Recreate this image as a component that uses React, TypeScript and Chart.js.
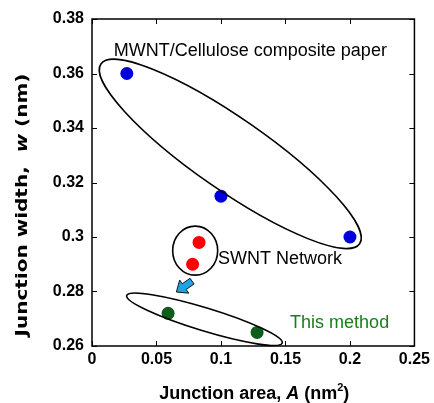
import React, { useEffect, useRef } from "react";
import { Chart, registerables } from "chart.js";
Chart.register(...registerables);

// Data (x: junction area nm^2, y: junction width nm)
const mwntX = [0.027, 0.1, 0.2];
const mwntY = [0.36, 0.315, 0.3];
const swntX = [0.083, 0.078];
const swntY = [0.298, 0.29];
const thisX = [0.059, 0.128];
const thisY = [0.272, 0.265];

const xTicks = [0, 0.05, 0.1, 0.15, 0.2, 0.25];
const xTickLabels = ["0", "0.05", "0.1", "0.15", "0.2", "0.25"];
const yTicks = [0.26, 0.28, 0.3, 0.32, 0.34, 0.36, 0.38];
const yTickLabels = ["0.26", "0.28", "0.3", "0.32", "0.34", "0.36", "0.38"];

// Group outlines in data units: center, major-axis tip, minor semi-axis (px)
const ellCenterX = [0.1072, 0.08, 0.0872];
const ellCenterY = [0.3305, 0.295, 0.2698];
const ellTipX = [0.2075, 0.08, 0.1475];
const ellTipY = [0.2975, 0.304, 0.2611];
const ellMinor = [36, 22.5, 11.5];

// Arrow (tail -> tip) in data units
const arrowX = [0.0776, 0.0654];
const arrowY = [0.2838, 0.2798];

const labelTexts = ["MWNT/Cellulose composite paper", "SWNT Network", "This method"];
const labelX = [0.0169, 0.0977, 0.1536];
const labelY = [0.3665, 0.2902, 0.2665];

const BLUE = "#0000dd";
const RED = "#ff0000";
const DGREEN = "#0b5e1b";
const TGREEN = "#1a7d1a";

function drawSegments(ctx: CanvasRenderingContext2D, segs: { t: string; f: string; dy?: number }[], cx: number, cy: number, stretchTo?: number) {
  let total = 0;
  const widths = segs.map((s) => {
    ctx.font = s.f;
    const w = ctx.measureText(s.t).width;
    total += w;
    return w;
  });
  ctx.save();
  ctx.translate(cx, cy);
  const f = stretchTo ? stretchTo / total : 1;
  ctx.scale(f, 1);
  let x = -total / 2;
  ctx.textAlign = "left";
  ctx.textBaseline = "alphabetic";
  segs.forEach((s, i) => {
    ctx.font = s.f;
    ctx.fillText(s.t, x, s.dy || 0);
    x += widths[i];
  });
  ctx.restore();
}

const overlay = {
  id: "overlay",
  afterDatasetsDraw(chart: any) {
    const ctx: CanvasRenderingContext2D = chart.ctx;
    const xs = chart.scales.x;
    const ys = chart.scales.y;
    const { left, right, top, bottom } = chart.chartArea;
    ctx.save();
    ctx.strokeStyle = "#000";
    ctx.lineWidth = 1.5;
    // frame
    ctx.strokeRect(left, top, right - left, bottom - top);
    // inward ticks on all sides
    ctx.lineWidth = 1;
    ctx.beginPath();
    xTicks.forEach((v) => {
      const px = Math.round(xs.getPixelForValue(v)) + 0.5;
      ctx.moveTo(px, bottom);
      ctx.lineTo(px, bottom - 5);
      ctx.moveTo(px, top);
      ctx.lineTo(px, top + 5);
    });
    yTicks.forEach((v) => {
      const py = Math.round(ys.getPixelForValue(v)) + 0.5;
      ctx.moveTo(left, py);
      ctx.lineTo(left + 5, py);
      ctx.moveTo(right, py);
      ctx.lineTo(right - 5, py);
    });
    ctx.stroke();

    // ellipses
    ctx.lineWidth = 1.6;
    ellCenterX.forEach((cxv, i) => {
      const cx = xs.getPixelForValue(cxv);
      const cy = ys.getPixelForValue(ellCenterY[i]);
      const tx = xs.getPixelForValue(ellTipX[i]);
      const ty = ys.getPixelForValue(ellTipY[i]);
      const a = Math.hypot(tx - cx, ty - cy);
      const ang = Math.atan2(ty - cy, tx - cx);
      ctx.beginPath();
      ctx.ellipse(cx, cy, a, ellMinor[i], ang, 0, Math.PI * 2);
      ctx.stroke();
    });

    // arrow
    {
      const x0 = xs.getPixelForValue(arrowX[0]);
      const y0 = ys.getPixelForValue(arrowY[0]);
      const x1 = xs.getPixelForValue(arrowX[1]);
      const y1 = ys.getPixelForValue(arrowY[1]);
      const L = Math.hypot(x1 - x0, y1 - y0);
      const ang = Math.atan2(y1 - y0, x1 - x0);
      const hl = L * 0.5;
      const sw = 3.5;
      const hw = 8;
      ctx.save();
      ctx.translate(x0, y0);
      ctx.rotate(ang);
      ctx.beginPath();
      ctx.moveTo(0, -sw);
      ctx.lineTo(L - hl, -sw);
      ctx.lineTo(L - hl, -hw);
      ctx.lineTo(L, 0);
      ctx.lineTo(L - hl, hw);
      ctx.lineTo(L - hl, sw);
      ctx.lineTo(0, sw);
      ctx.closePath();
      ctx.fillStyle = "#1fa3e3";
      ctx.fill();
      ctx.lineWidth = 0.8;
      ctx.strokeStyle = "#000";
      ctx.stroke();
      ctx.restore();
    }

    // annotations
    ctx.font = '18px "Liberation Sans", Arial, sans-serif';
    ctx.textAlign = "left";
    ctx.textBaseline = "alphabetic";
    labelTexts.forEach((t, i) => {
      ctx.fillStyle = i === 2 ? TGREEN : "#000";
      ctx.fillText(t, xs.getPixelForValue(labelX[i]), ys.getPixelForValue(labelY[i]));
    });

    // axis titles
    ctx.fillStyle = "#000";
    const xf = '"Liberation Sans", Arial, sans-serif';
    drawSegments(
      ctx,
      [
        { t: "Junction area, ", f: `bold 18px ${xf}` },
        { t: "A", f: `italic bold 18px ${xf}` },
        { t: " (nm", f: `bold 18px ${xf}` },
        { t: "2", f: `bold 11px ${xf}`, dy: -8 },
        { t: ")", f: `bold 18px ${xf}` },
      ],
      (left + right) / 2 + 1,
      399
    );
    ctx.save();
    ctx.translate(27, 205);
    ctx.rotate(-Math.PI / 2);
    const yf = '"DejaVu Sans", Verdana, sans-serif';
    drawSegments(
      ctx,
      [
        { t: "Junction width,  ", f: `bold 15px ${yf}` },
        { t: "w", f: `italic bold 15px ${yf}` },
        { t: " (nm)", f: `bold 15px ${yf}` },
      ],
      0,
      0,
      263
    );
    ctx.restore();
    ctx.restore();
  },
};

export default function App() {
  const ref = useRef<HTMLCanvasElement | null>(null);
  useEffect(() => {
    if (!ref.current) return;
    const tickFont = { family: '"Liberation Sans", Arial, sans-serif', size: 16, weight: "bold" as const };
    const chart = new Chart(ref.current, {
      type: "scatter",
      data: {
        datasets: [
          { data: mwntX.map((x, i) => ({ x, y: mwntY[i] })), backgroundColor: BLUE, borderWidth: 0, pointRadius: 6.5 },
          { data: swntX.map((x, i) => ({ x, y: swntY[i] })), backgroundColor: RED, borderWidth: 0, pointRadius: 6.5 },
          { data: thisX.map((x, i) => ({ x, y: thisY[i] })), backgroundColor: DGREEN, borderWidth: 0, pointRadius: 6.5 },
        ],
      },
      options: {
        responsive: false,
        animation: false,
        layout: { padding: { left: 0, right: 17, top: 19, bottom: 0 } },
        plugins: { legend: { display: false }, tooltip: { enabled: false } },
        scales: {
          x: {
            type: "linear",
            min: 0,
            max: 0.25,
            afterBuildTicks: (s: any) => {
              s.ticks = xTicks.map((v) => ({ value: v }));
            },
            afterFit: (s: any) => {
              s.height = 57;
            },
            grid: { display: false, drawTicks: false },
            border: { display: false },
            ticks: {
              font: tickFont,
              color: "#000",
              padding: 4,
              maxRotation: 0,
              autoSkip: false,
              callback: (v: any) => xTickLabels[xTicks.findIndex((t) => Math.abs(t - v) < 1e-6)],
            },
          },
          y: {
            type: "linear",
            min: 0.26,
            max: 0.38,
            afterBuildTicks: (s: any) => {
              s.ticks = yTicks.map((v) => ({ value: v }));
            },
            afterFit: (s: any) => {
              s.width = 92;
            },
            grid: { display: false, drawTicks: false },
            border: { display: false },
            ticks: {
              font: tickFont,
              color: "#000",
              padding: 8,
              autoSkip: false,
              callback: (v: any) => yTickLabels[yTicks.findIndex((t) => Math.abs(t - v) < 1e-6)],
            },
          },
        },
      },
      plugins: [overlay],
    });
    return () => chart.destroy();
  }, []);
  return (
    <div style={{ position: "absolute", left: 0, top: 0, width: 434, height: 403 }}>
      <canvas ref={ref} width={434} height={403} style={{ display: "block", width: 434, height: 403 }} />
    </div>
  );
}
